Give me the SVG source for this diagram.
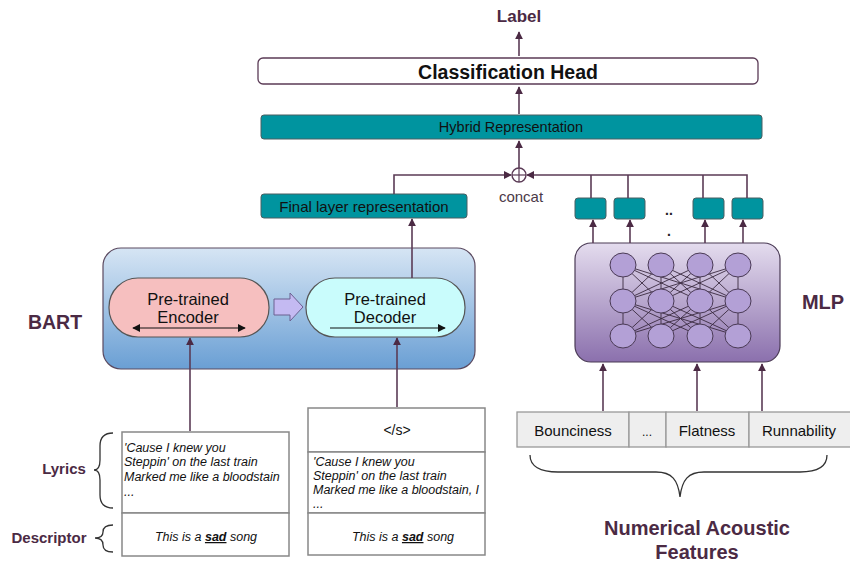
<svg xmlns="http://www.w3.org/2000/svg" width="850" height="562" viewBox="0 0 850 562">
<defs>
<style>
.lbl{font-family:"Liberation Sans",Arial,sans-serif;font-weight:bold;fill:#4b2a44}
.t{font-family:"Liberation Sans",Arial,sans-serif;fill:#111}
.it{font-family:"Liberation Sans",Arial,sans-serif;font-style:italic;fill:#111;font-size:12.5px}
.teal{fill:#00949f;stroke:#4a5f62;stroke-width:1}
.conn{stroke:#5b3b56;stroke-width:1.6;fill:none}
.box{fill:#fff;stroke:#888;stroke-width:1.5}
.feat{fill:#eeeeee;stroke:#999;stroke-width:1.3}
.brace{fill:none;stroke:#333;stroke-width:1.3}
.node{fill:#b3a0d6;stroke:#4a3a55;stroke-width:1}
.nn{stroke:#3a2a40;stroke-width:0.9}
</style>
<marker id="ah" viewBox="0 0 10 10" refX="9" refY="5" markerWidth="8" markerHeight="8" markerUnits="userSpaceOnUse" orient="auto">
<path d="M0,0 L10,5 L0,10 z" fill="#4b2a44"/>
</marker>
<marker id="bh" viewBox="0 0 10 10" refX="9" refY="5" markerWidth="8" markerHeight="8" markerUnits="userSpaceOnUse" orient="auto-start-reverse">
<path d="M0,0 L10,5 L0,10 z" fill="#111"/>
</marker>
<linearGradient id="gBart" x1="0" y1="0" x2="0" y2="1">
<stop offset="0" stop-color="#d6e5f4"/>
<stop offset="1" stop-color="#6a9fd4"/>
</linearGradient>
<linearGradient id="gMlp" x1="0" y1="0" x2="0" y2="1">
<stop offset="0" stop-color="#e4dcee"/>
<stop offset="1" stop-color="#8b70ad"/>
</linearGradient>
</defs>
<rect width="850" height="562" fill="#fff"/>

<g id="label"><text class="lbl" x="519" y="22" font-size="17" text-anchor="middle">Label</text></g>

<g id="classification-head">
<rect x="258" y="58" width="500" height="26" rx="5" fill="#fff" stroke="#5b3b56" stroke-width="1.3"/>
<text class="t" x="508" y="79" font-size="19.5" font-weight="bold" text-anchor="middle">Classification Head</text>
</g>

<g id="hybrid">
<rect class="teal" x="261" y="115" width="501" height="24" rx="3"/>
<text class="t" x="511" y="132" font-size="14.5" text-anchor="middle">Hybrid Representation</text>
</g>

<g id="concat">
<circle cx="519" cy="175" r="7" fill="#fff" stroke="#5b3b56" stroke-width="1.4"/>
<line x1="512" y1="175" x2="526" y2="175" stroke="#5b3b56" stroke-width="1.2"/>
<line x1="519" y1="168" x2="519" y2="182" stroke="#5b3b56" stroke-width="1.2"/>
<text x="521" y="202" font-family="Liberation Sans, Arial, sans-serif" font-size="15" fill="#4b3a48" text-anchor="middle">concat</text>
</g>

<g id="final-layer">
<rect class="teal" x="261" y="194" width="206" height="24" rx="3"/>
<text class="t" x="364" y="212" font-size="15" text-anchor="middle">Final layer representation</text>
</g>

<g id="mlp-outputs">
<rect class="teal" x="575" y="198" width="31" height="21" rx="3"/>
<rect class="teal" x="614" y="198" width="31" height="21" rx="3"/>
<rect class="teal" x="693" y="198" width="31" height="21" rx="3"/>
<rect class="teal" x="732" y="198" width="31" height="21" rx="3"/>
<text x="669" y="215" font-family="Liberation Sans, Arial, sans-serif" font-size="14" font-weight="bold" fill="#222" text-anchor="middle">..</text>
<text x="669" y="236" font-family="Liberation Sans, Arial, sans-serif" font-size="14" font-weight="bold" fill="#222" text-anchor="middle">.</text>
</g>

<g id="bart">
<rect x="103" y="248" width="372" height="121" rx="18" fill="url(#gBart)" stroke="#5b4a60" stroke-width="1.2"/>
<text class="lbl" x="55" y="329" font-size="19.5" text-anchor="middle">BART</text>
</g>

<g id="encoder">
<rect x="109" y="278" width="160" height="59" rx="29" fill="#f6bfbf" stroke="#555" stroke-width="1.2"/>
<text class="t" x="188" y="305" font-size="16.5" fill="#222" text-anchor="middle">Pre-trained</text>
<text class="t" x="188" y="323" font-size="16.5" fill="#222" text-anchor="middle">Encoder</text>
<line x1="133" y1="328" x2="245" y2="328" stroke="#111" stroke-width="1.2" marker-start="url(#bh)" marker-end="url(#bh)"/>
</g>

<g id="block-arrow">
<path d="M274,299 L290,299 L290,293 L303,307 L290,321 L290,315 L274,315 z" fill="#c4baf2" stroke="#6a6090" stroke-width="1"/>
</g>

<g id="decoder">
<rect x="306" y="278" width="159" height="59" rx="29" fill="#c9fcfc" stroke="#555" stroke-width="1.2"/>
<text class="t" x="385" y="305" font-size="16.5" fill="#222" text-anchor="middle">Pre-trained</text>
<text class="t" x="385" y="323" font-size="16.5" fill="#222" text-anchor="middle">Decoder</text>
<line x1="330" y1="328" x2="445" y2="328" stroke="#111" stroke-width="1.2" marker-end="url(#bh)"/>
</g>

<g id="mlp">
<rect x="575" y="243" width="205" height="119" rx="16" fill="url(#gMlp)" stroke="#4a3a55" stroke-width="1.2"/>
<g class="nn">
<line x1="623" y1="265" x2="661" y2="301"/><line x1="623" y1="265" x2="700" y2="301"/><line x1="623" y1="265" x2="738" y2="301"/>
<line x1="661" y1="265" x2="623" y2="301"/><line x1="661" y1="265" x2="700" y2="301"/><line x1="661" y1="265" x2="738" y2="301"/>
<line x1="700" y1="265" x2="623" y2="301"/><line x1="700" y1="265" x2="661" y2="301"/><line x1="700" y1="265" x2="738" y2="301"/>
<line x1="738" y1="265" x2="623" y2="301"/><line x1="738" y1="265" x2="661" y2="301"/><line x1="738" y1="265" x2="700" y2="301"/>
<line x1="623" y1="265" x2="623" y2="336"/><line x1="661" y1="265" x2="661" y2="336"/><line x1="700" y1="265" x2="700" y2="336"/><line x1="738" y1="265" x2="738" y2="336"/>
<line x1="623" y1="301" x2="661" y2="336"/><line x1="623" y1="301" x2="700" y2="336"/><line x1="623" y1="301" x2="738" y2="336"/>
<line x1="661" y1="301" x2="623" y2="336"/><line x1="661" y1="301" x2="700" y2="336"/><line x1="661" y1="301" x2="738" y2="336"/>
<line x1="700" y1="301" x2="623" y2="336"/><line x1="700" y1="301" x2="661" y2="336"/><line x1="700" y1="301" x2="738" y2="336"/>
<line x1="738" y1="301" x2="623" y2="336"/><line x1="738" y1="301" x2="661" y2="336"/><line x1="738" y1="301" x2="700" y2="336"/>
</g>
<ellipse class="node" cx="623" cy="265" rx="13" ry="12"/><ellipse class="node" cx="661" cy="265" rx="13" ry="12"/><ellipse class="node" cx="700" cy="265" rx="13" ry="12"/><ellipse class="node" cx="738" cy="265" rx="13" ry="12"/>
<ellipse class="node" cx="623" cy="301" rx="13" ry="12"/><ellipse class="node" cx="661" cy="301" rx="13" ry="12"/><ellipse class="node" cx="700" cy="301" rx="13" ry="12"/><ellipse class="node" cx="738" cy="301" rx="13" ry="12"/>
<ellipse class="node" cx="623" cy="336" rx="13" ry="12"/><ellipse class="node" cx="661" cy="336" rx="13" ry="12"/><ellipse class="node" cx="700" cy="336" rx="13" ry="12"/><ellipse class="node" cx="738" cy="336" rx="13" ry="12"/>
<text class="lbl" x="823" y="309" font-size="20" text-anchor="middle">MLP</text>
</g>

<g id="features">
<rect class="feat" x="517" y="412" width="112" height="35"/>
<rect class="feat" x="629" y="412" width="37" height="35"/>
<rect class="feat" x="666" y="412" width="83" height="35"/>
<rect class="feat" x="749" y="412" width="103" height="35"/>
<text class="t" x="573" y="436" font-size="15" fill="#222" text-anchor="middle">Bounciness</text>
<text class="t" x="647" y="436" font-size="12" fill="#222" text-anchor="middle">...</text>
<text class="t" x="707" y="436" font-size="15" fill="#222" text-anchor="middle">Flatness</text>
<text class="t" x="799" y="436" font-size="15" fill="#222" text-anchor="middle">Runnability</text>
<path class="brace" d="M530,455 C530,466 540,472 558,472 L656,472 C672,472 678,480 680,497 C682,480 688,472 704,472 L800,472 C818,472 827,466 827,455"/>
<text class="lbl" x="697" y="535" font-size="20" text-anchor="middle">Numerical Acoustic</text>
<text class="lbl" x="697" y="559" font-size="20" text-anchor="middle">Features</text>
</g>

<g id="encoder-input">
<rect class="box" x="122" y="432" width="167" height="81"/>
<text class="it" x="124" y="452">'Cause I knew you</text>
<text class="it" x="124" y="466">Steppin' on the last train</text>
<text class="it" x="124" y="481">Marked me like a bloodstain</text>
<text class="it" x="124" y="496" font-size="10">...</text>
<rect class="box" x="122" y="513" width="167" height="43"/>
<text class="it" x="206" y="541" font-size="13.5" text-anchor="middle">This is a <tspan font-weight="bold" text-decoration="underline">sad</tspan> song</text>
</g>

<g id="decoder-input">
<rect class="box" x="308" y="408" width="177" height="44"/>
<text class="t" x="397" y="435" font-size="14" fill="#222" text-anchor="middle">&lt;/s&gt;</text>
<rect class="box" x="308" y="452" width="177" height="61"/>
<text class="it" x="313" y="466">'Cause I knew you</text>
<text class="it" x="313" y="480">Steppin' on the last train</text>
<text class="it" x="313" y="494">Marked me like a bloodstain, I</text>
<text class="it" x="313" y="508" font-size="10">...</text>
<rect class="box" x="308" y="513" width="177" height="42"/>
<text class="it" x="403" y="541" font-size="13.5" text-anchor="middle">This is a <tspan font-weight="bold" text-decoration="underline">sad</tspan> song</text>
</g>

<g id="side-labels">
<text class="lbl" x="64" y="474" font-size="15" text-anchor="middle">Lyrics</text>
<path class="brace" d="M113,433 C103,433 100,438 100,446 L100,460 C100,466 98,470 94,470 C98,470 100,474 100,480 L100,495 C100,503 103,508 113,508"/>
<text class="lbl" x="49" y="543" font-size="15" text-anchor="middle">Descriptor</text>
<path class="brace" d="M113,525 C106,525 103,528 103,532 C103,536 100,538 95,538 C100,538 103,540 103,545 C103,549 106,552 113,552"/>
</g>

<g id="connectors">
<line class="conn" x1="519" y1="56" x2="519" y2="32" marker-end="url(#ah)"/>
<line class="conn" x1="519" y1="114" x2="519" y2="87" marker-end="url(#ah)"/>
<line class="conn" x1="519" y1="168" x2="519" y2="141" marker-end="url(#ah)"/>
<polyline class="conn" points="394,194 394,175 511,175" marker-end="url(#ah)"/>
<polyline class="conn" points="747,198 747,175 527,175" marker-end="url(#ah)"/>
<line class="conn" x1="591" y1="198" x2="591" y2="175"/>
<line class="conn" x1="628" y1="198" x2="628" y2="175"/>
<line class="conn" x1="703" y1="198" x2="703" y2="175"/>
<line class="conn" x1="412" y1="278" x2="412" y2="219" marker-end="url(#ah)"/>
<line class="conn" x1="593" y1="243" x2="593" y2="220" marker-end="url(#ah)"/>
<line class="conn" x1="630" y1="243" x2="630" y2="220" marker-end="url(#ah)"/>
<line class="conn" x1="705" y1="243" x2="705" y2="220" marker-end="url(#ah)"/>
<line class="conn" x1="743" y1="243" x2="743" y2="220" marker-end="url(#ah)"/>
<line class="conn" x1="190" y1="431" x2="190" y2="338" marker-end="url(#ah)"/>
<line class="conn" x1="397" y1="407" x2="397" y2="338" marker-end="url(#ah)"/>
<line class="conn" x1="603" y1="411" x2="603" y2="364" marker-end="url(#ah)"/>
<line class="conn" x1="697" y1="411" x2="697" y2="364" marker-end="url(#ah)"/>
<line class="conn" x1="762" y1="411" x2="762" y2="364" marker-end="url(#ah)"/>
</g>
</svg>
